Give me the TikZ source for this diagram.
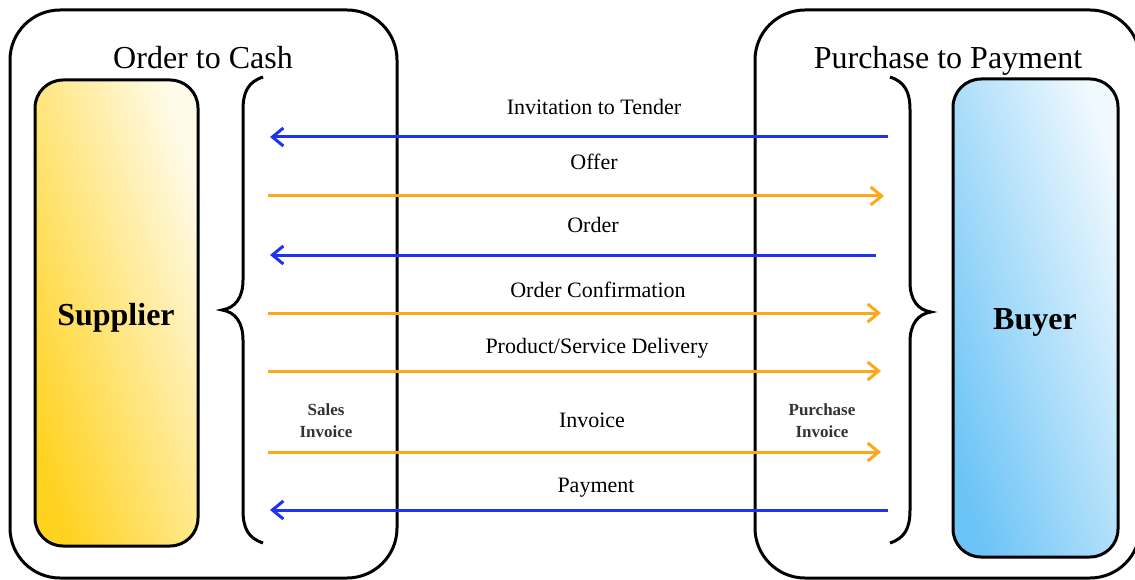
\documentclass[tikz,border=0pt]{standalone}
\usepackage{fontspec}
\setmainfont{Liberation Serif}
\usetikzlibrary{arrows.meta}
\definecolor{flowblue}{HTML}{1E32F0}
\definecolor{floworange}{HTML}{FFA71A}
\definecolor{supyel}{HTML}{FFD21F}
\definecolor{supyellight}{HTML}{FFFBEA}
\definecolor{buyblue}{HTML}{6CC4F6}
\definecolor{buybluelight}{HTML}{F0F9FE}
\tikzset{
  frame/.style={draw=black, line width=3pt, rounded corners=50pt},
  party/.style={draw=black, line width=3pt, rounded corners=28pt},
  brace/.style={draw=black, line width=3pt},
  title/.style={font=\fontsize{32}{38}\selectfont, inner sep=0pt, anchor=base},
  partyname/.style={font=\fontsize{32}{38}\selectfont\bfseries, inner sep=0pt},
  msg/.style={font=\fontsize{22}{26}\selectfont, inner sep=0pt},
  small/.style={font=\fontsize{17}{22}\selectfont\bfseries, text=black!80, align=center, inner sep=0pt},
  flow/.style={line width=3pt, -{Straight Barb[length=11pt,width=18pt]}},
  toleft/.style={flow, draw=flowblue},
  toright/.style={flow, draw=floworange},
}
\begin{document}
\begin{tikzpicture}[x=1pt,y=-1pt]
\useasboundingbox (0,0) rectangle (1135,580);
\clip (0,0) rectangle (1135,580);
% outer frames
\draw[frame] (10,10) rectangle (397,578);
\draw[frame] (755,10) rectangle (1140,578);
% party boxes
\draw[party, top color=supyellight, bottom color=supyel, shading angle=-72] (35,80) rectangle (198,546);
\draw[party, top color=buybluelight, bottom color=buyblue, shading angle=-72] (953,79) rectangle (1118,557);
% braces
\draw[brace] (263,77) .. controls (248,82) and (243,92) .. (243,110)
  -- (243,280) .. controls (243,298) and (235,308) .. (222,310)
  .. controls (235,312) and (243,322) .. (243,340)
  -- (243,510) .. controls (243,528) and (248,538) .. (263,543);
\draw[brace] (890,77) .. controls (905,82) and (910,92) .. (910,110)
  -- (910,282) .. controls (910,300) and (918,310) .. (931,312)
  .. controls (918,314) and (910,324) .. (910,342)
  -- (910,510) .. controls (910,528) and (905,538) .. (890,543);
% titles
\node[title] (o2c) at (203,69) {Order to Cash};
\node[title] (p2p) at (948,69) {Purchase to Payment};
\node[partyname] (supplier) at (116,318) {Supplier};
\node[partyname] (buyer) at (1035,322) {Buyer};
% arrow end points
\coordinate (itR) at (888,137); \coordinate (itL) at (270,137);
\coordinate (ofL) at (268,196); \coordinate (ofR) at (884,196);
\coordinate (orR) at (876,255); \coordinate (orL) at (270,255);
\coordinate (ocL) at (268,313); \coordinate (ocR) at (881,313);
\coordinate (pdL) at (268,371); \coordinate (pdR) at (881,371);
\coordinate (ivL) at (268,452); \coordinate (ivR) at (881,452);
\coordinate (pyR) at (888,510); \coordinate (pyL) at (270,510);
\draw[toleft] (itR) -- (itL);
\draw[toright] (ofL) -- (ofR);
\draw[toleft] (orR) -- (orL);
\draw[toright] (ocL) -- (ocR);
\draw[toright] (pdL) -- (pdR);
\draw[toright] (ivL) -- (ivR);
\draw[toleft] (pyR) -- (pyL);
% labels
\node[msg] (lit) at (594,107) {Invitation to Tender};
\node[msg] (lof) at (594,162) {Offer};
\node[msg] (lor) at (593,225) {Order};
\node[msg] (loc) at (598,290) {Order Confirmation};
\node[msg] (lpd) at (597,348) {Product/Service Delivery};
\node[msg] (liv) at (592,420) {Invoice};
\node[msg] (lpy) at (596,488) {Payment};
\node[small] (sinv) at (326,421) {Sales\\Invoice};
\node[small] (pinv) at (822,421) {Purchase\\Invoice};
\end{tikzpicture}
\end{document}
